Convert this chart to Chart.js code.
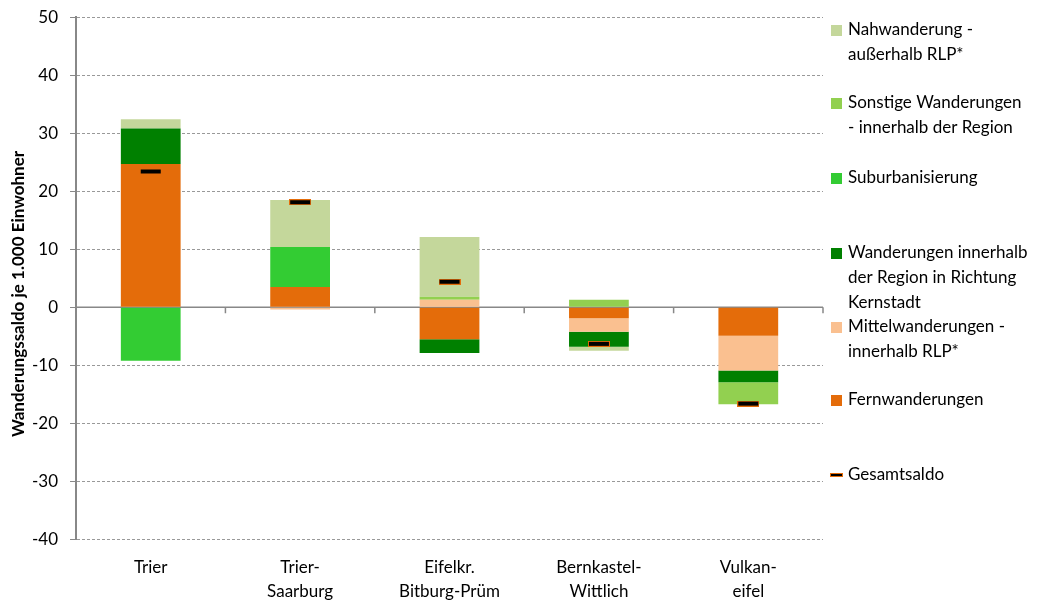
<!DOCTYPE html>
<html>
<head>
<meta charset="utf-8">
<script src="https://cdn.jsdelivr.net/npm/chart.js@4/dist/chart.umd.min.js"></script>
<style>
  html, body { margin: 0; padding: 0; background: #fff; }
  #wrap { width: 1050px; height: 601px; }
</style>
</head>
<body>
<div id="wrap"><canvas id="migrationChart"></canvas></div>
<script>
const categories = ['Trier', ['Trier-', 'Saarburg'], ['Eifelkr.', 'Bitburg-Prüm'], ['Bernkastel-', 'Wittlich'], ['Vulkan-', 'eifel']];

// Wanderungssaldo je 1.000 Einwohner, per Komponente
const fernwanderungen   = [24.7,  3.5, -5.5, -1.9, -4.9];
const mittelwanderungen = [null, -0.4,  1.3, -2.3, -6.0];
const richtungKernstadt = [ 6.1, null, -2.4, -2.6, -2.0];
const suburbanisierung  = [-9.2,  6.9, null, null, null];
const sonstigeRegion    = [null, null,  0.5,  1.3, -3.8];
const nahwanderung      = [ 1.6,  8.1, 10.3, -0.7, null];
const gesamtsaldo       = [23.4, 18.1,  4.4, -6.3, -16.6];

const yTicks = [-40, -30, -20, -10, 0, 10, 20, 30, 40, 50];

const FONT = 'Lato, "Open Sans", sans-serif';

// black dash with orange edge for Gesamtsaldo
function makeDash(w, h) {
    const c = document.createElement('canvas');
    c.width = w; c.height = h;
    const g = c.getContext('2d');
    g.fillStyle = '#E46C0A';
    g.fillRect(0, 0, w, h);
    g.fillStyle = '#000';
    g.fillRect(1, 1, w - 2, h - 2);
    return c;
}
const dash = makeDash(22, 6);

const series = [
    {label: 'Fernwanderungen', data: fernwanderungen, color: '#E46C0A'},
    {label: 'Mittelwanderungen - innerhalb RLP*', data: mittelwanderungen, color: '#FAC090'},
    {label: 'Wanderungen innerhalb der Region in Richtung Kernstadt', data: richtungKernstadt, color: '#008000'},
    {label: 'Suburbanisierung', data: suburbanisierung, color: '#33CC33'},
    {label: 'Sonstige Wanderungen - innerhalb der Region', data: sonstigeRegion, color: '#92D050'},
    {label: 'Nahwanderung - außerhalb RLP*', data: nahwanderung, color: '#C4D79B'},
];

// legend entries as they appear on the right (text lines)
const legendRows = [
    {lines: ['Nahwanderung -', 'außerhalb RLP*'], color: '#C4D79B', y: 30},
    {lines: ['Sonstige Wanderungen', '- innerhalb der Region'], color: '#92D050', y: 103},
    {lines: ['Suburbanisierung'], color: '#33CC33', y: 178},
    {lines: ['Wanderungen innerhalb', 'der Region in Richtung', 'Kernstadt'], color: '#008000', y: 253},
    {lines: ['Mittelwanderungen -', 'innerhalb RLP*'], color: '#FAC090', y: 327},
    {lines: ['Fernwanderungen'], color: '#E46C0A', y: 400},
    {lines: ['Gesamtsaldo'], color: null, y: 475},
];

const sideLegend = {
    id: 'sideLegend',
    afterDraw(chart) {
        const ctx = chart.ctx;
        ctx.save();
        ctx.font = '17px ' + FONT;
        ctx.textBaseline = 'middle';
        legendRows.forEach(row => {
            if (row.color) {
                ctx.fillStyle = row.color;
                ctx.fillRect(831, row.y - 5, 11, 11);
            } else {
                ctx.fillStyle = '#E46C0A';
                ctx.fillRect(830, row.y - 2, 13, 4);
                ctx.fillStyle = '#000';
                ctx.fillRect(831, row.y - 1, 11, 2);
            }
            ctx.fillStyle = '#000';
            row.lines.forEach((t, i) => ctx.fillText(t, 848, row.y + i * 25));
        });
        // y axis title, rotated
        ctx.translate(19, 294);
        ctx.rotate(-Math.PI / 2);
        ctx.textAlign = 'center';
        ctx.font = 'bold 17px ' + FONT;
        ctx.fillText('Wanderungssaldo je 1.000 Einwohner', 0, 0);
        ctx.restore();
    }
};

// solid zero line with small tick marks between categories
const zeroLine = {
    id: 'zeroLine',
    beforeDatasetsDraw(chart) {
        const {ctx, chartArea, scales} = chart;
        const y0 = scales.y.getPixelForValue(0);
        ctx.save();
        ctx.strokeStyle = '#888';
        ctx.lineWidth = 1.5;
        ctx.beginPath();
        ctx.moveTo(chartArea.left, y0);
        ctx.lineTo(chartArea.right, y0);
        for (let i = 0; i < categories.length; i++) {
            const x = scales.x.getPixelForValue(i) + (chartArea.right - chartArea.left) / categories.length / 2;
            ctx.moveTo(x, y0);
            ctx.lineTo(x, y0 + 6);
        }
        ctx.stroke();
        ctx.restore();
    }
};

const datasets = series.map(s => ({
    type: 'bar',
    label: s.label,
    data: s.data,
    backgroundColor: s.color,
    borderWidth: 0,
    stack: 'komponenten',
    barPercentage: 0.4,
    categoryPercentage: 1,
    order: 1
}));
datasets.push({
    type: 'line',
    label: 'Gesamtsaldo',
    data: gesamtsaldo,
    showLine: false,
    pointStyle: dash,
    pointRadius: 11,
    pointHoverRadius: 11,
    stack: 'gesamt',
    order: 0
});

new Chart(document.getElementById('migrationChart'), {
    data: {labels: categories, datasets: datasets},
    plugins: [zeroLine, sideLegend],
    options: {
        responsive: true,
        maintainAspectRatio: false,
        animation: false,
        layout: {padding: {top: 0, right: 227, bottom: -10, left: 20}},
        plugins: {
            legend: {display: false},
            tooltip: {enabled: false}
        },
        scales: {
            x: {
                stacked: true,
                grid: {display: false},
                border: {display: false},
                ticks: {
                    color: '#000',
                    font: {family: FONT, size: 17, lineHeight: 1.4},
                    padding: 8,
                    maxRotation: 0
                }
            },
            y: {
                stacked: true,
                min: -40,
                max: 50,
                afterBuildTicks: axis => { axis.ticks = yTicks.map(v => ({value: v})); },
                grid: {
                    color: '#999',
                    lineWidth: 1,
                    tickLength: 6,
                    tickColor: '#888'
                },
                border: {display: true, color: '#888', width: 2, dash: [3, 2]},
                ticks: {
                    color: '#000',
                    font: {family: FONT, size: 17, lineHeight: 0.6},
                    padding: 12
                }
            }
        }
    }
});
</script>
</body>
</html>
